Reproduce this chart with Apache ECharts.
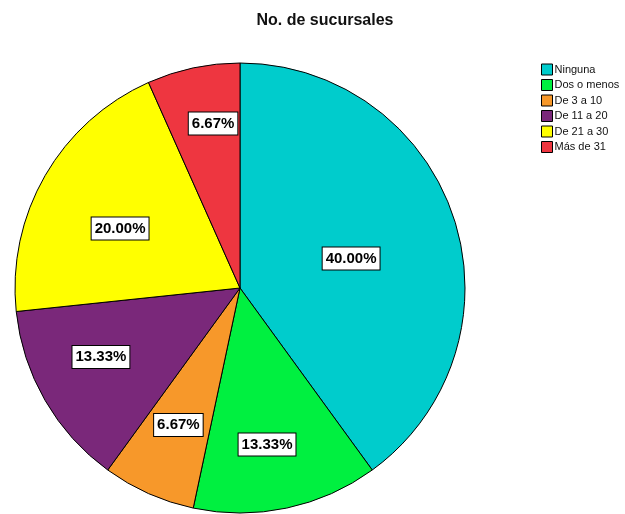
<!DOCTYPE html>
<html><head><meta charset="utf-8">
<script src="https://cdn.jsdelivr.net/npm/echarts@6/dist/echarts.min.js"></script>
<style>html,body{margin:0;padding:0;background:#fff}#c{width:625px;height:514px}</style>
</head><body><div id="c"></div>
<script>
const categories = ['Ninguna','Dos o menos','De 3 a 10','De 11 a 20','De 21 a 30','Más de 31'];
const counts = [6, 2, 1, 2, 3, 1];
const colors = ['#00CCCC','#00F040','#F7982A','#7A287A','#FFFF00','#EE3640'];
// label placement style: distance from centre (fraction of radius) and angle nudge (degrees)
const labelRadiusFrac = [0.511, 0.706, 0.668, 0.690, 0.595, 0.741];
const labelAngleNudge = [3.1, 2.2, 0.2, 3.6, -3.6, 2.7];
const CX = 240, CY = 288, R = 225;
const total = counts.reduce((a,b)=>a+b,0);
const midAngles = [];
{ let acc = 0; counts.forEach(v=>{ midAngles.push((acc + v/2)/total*2*Math.PI); acc += v; }); }
const chart = echarts.init(document.getElementById('c'));
chart.setOption({
  animation:false,
  color: colors,
  title:{text:'No. de sucursales', left:320, top:8, textAlign:'center',
    textStyle:{fontFamily:'Liberation Sans, Arial', fontSize:16, fontWeight:'bold', color:'#111'}},
  legend:{orient:'vertical', left:536, top:58, itemWidth:11, itemHeight:11, itemGap:2.5,
    icon:'rect', data:categories,
    itemStyle:{borderColor:'#000', borderWidth:1},
    textStyle:{fontFamily:'Liberation Sans, Arial', fontSize:11, lineHeight:13, color:'#111', padding:[0,0,0,-3]}},
  series:[{type:'pie', center:[CX,CY], radius:R, startAngle:90, clockwise:true,
    data: categories.map((n,i)=>({name:n, value:counts[i]})),
    itemStyle:{borderColor:'#000', borderWidth:1},
    label:{position:'inside', formatter:p=>p.percent.toFixed(2)+'%',
      fontFamily:'Liberation Sans, Arial', fontSize:15, fontWeight:'bold', color:'#000',
      backgroundColor:'#fff', borderColor:'#000', borderWidth:1, padding:[4,3,3,3]},
    labelLayout: function(p){
      const i = p.dataIndex;
      const a = midAngles[i] + labelAngleNudge[i]*Math.PI/180, r = labelRadiusFrac[i]*R;
      return {x: CX + r*Math.sin(a), y: CY - r*Math.cos(a), align:'center', verticalAlign:'middle'};
    },
    labelLine:{show:false}, emphasis:{disabled:true}
  }]
});
</script></body></html>
